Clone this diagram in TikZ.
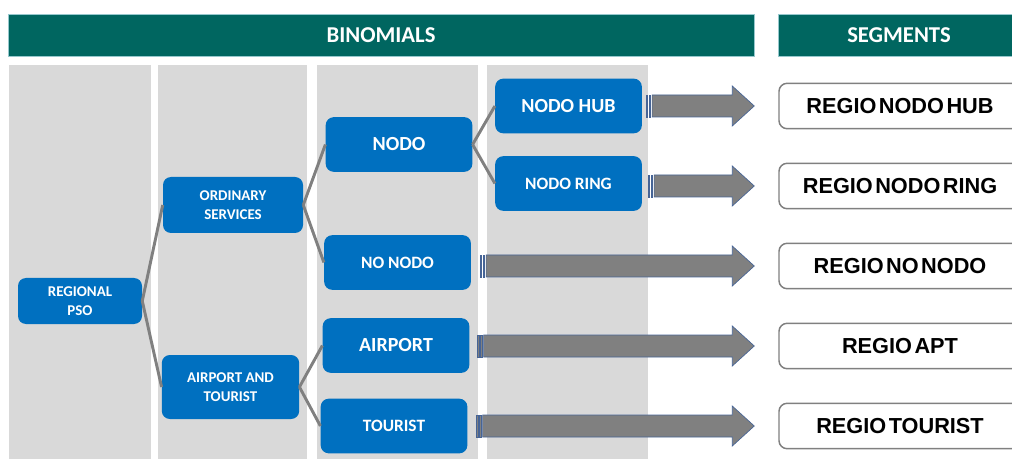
\documentclass[tikz,border=0pt]{standalone}
\usepackage{fontspec}
\setmainfont{Carlito}
\newfontfamily\segfont{Liberation Sans}[WordSpace=0.4]
\usepackage{tikz}
\usetikzlibrary{calc}
\definecolor{headteal}{RGB}{0,102,96}
\definecolor{headedge}{RGB}{150,200,205}
\definecolor{boxblue}{RGB}{0,112,192}
\definecolor{colgray}{RGB}{217,217,217}
\definecolor{linegray}{RGB}{128,128,128}
\definecolor{arrowedge}{RGB}{70,100,150}
\tikzstyle{header}=[rectangle,fill=headteal,draw=headedge,line width=0.4pt,text=white,inner sep=0pt,minimum height=31.5pt,font=\fontsize{17}{20}\selectfont\bfseries]
\tikzstyle{column}=[fill=colgray]
\tikzstyle{bluebox}=[rectangle,rounded corners=6pt,fill=boxblue,text=white,align=center,inner sep=0pt,minimum width=110pt,minimum height=41pt]
\tikzstyle{bigtxt}=[font=\fontsize{15}{18}\selectfont\bfseries]
\tikzstyle{midtxt}=[font=\fontsize{13}{16}\selectfont\bfseries]
\tikzstyle{smalltxt}=[font=\fontsize{11.2}{13.8}\selectfont\bfseries]
\tikzstyle{segment}=[rectangle,rounded corners=6pt,draw=linegray,line width=1.1pt,fill=white,minimum width=181.5pt,minimum height=34pt,inner sep=0pt,font=\segfont\fontsize{16.3}{19}\selectfont\bfseries]
\tikzstyle{branch}=[draw,linegray,line width=2.2pt]
\tikzstyle{bigarrow}=[fill=linegray,draw=arrowedge,line width=0.5pt]

\begin{document}
\begin{tikzpicture}[x=0.75pt,y=-0.75pt]
    \useasboundingbox (0,0) rectangle (1012,459);

    % Headers
    \node[header,minimum width=559.5pt] (binom) at (381,35) {BINOMIALS};
    \node[header,minimum width=181.5pt] (segm) at (899,35) {SEGMENTS};

    % Gray columns
    \foreach \xa/\xb in {9/151, 158/307, 317/478, 487/648}
        \fill[column] (\xa,65) rectangle (\xb,459);

    % First we draw the blue boxes
    \node[bluebox,smalltxt,minimum width=93pt,minimum height=34.5pt] (pso) at (80,301) {REGIONAL\\PSO};
    \node[bluebox,smalltxt,minimum width=105pt,minimum height=42pt] (ord) at (233,205) {ORDINARY\\SERVICES};
    \node[bluebox,smalltxt,minimum width=103pt,minimum height=48pt] (apt) at (230.5,387) {AIRPORT AND\\TOURIST};

    \foreach \pos/\name/\txt in {{(399,144.5)/nodo/NODO}, {(396,345.5)/airport/AIRPORT}, {(568.5,106)/hub/NODO HUB}}
        \node[bluebox,bigtxt] (\name) at \pos {\txt};

    \foreach \pos/\name/\txt in {{(397.5,262.5)/nonodo/NO NODO}, {(394,426)/tourist/TOURIST}, {(568.5,183.5)/ring/NODO RING}}
        \node[bluebox,midtxt] (\name) at \pos {\txt};

    % Connect boxes with branches
    \foreach \source/\dest in {pso/ord, pso/apt, ord/nodo, ord/nonodo, nodo/hub, nodo/ring, apt/airport, apt/tourist}
        \path[branch] (\source.east) -- (\dest.west);

    % Segments
    \foreach \y/\name/\txt in {106/seghub/REGIO NODO HUB, 186/segring/REGIO NODO RING, 266/segnonodo/REGIO NO NODO, 346/segapt/REGIO APT, 426/segtourist/REGIO TOURIST}
        \node[segment] (\name) at (900,\y) {\txt};

    % Block arrows from boxes to segments
    \foreach \source/\dest/\gap in {hub/seghub/4, ring/segring/6, nonodo/segnonodo/9, airport/segapt/8, tourist/segtourist/9} {
        \coordinate (tip) at ($(\dest.west)+(-24,0)$);
        \coordinate (tail) at ($(\source.east)+(\gap,0)$);
        \coordinate (start) at (tail |- tip);
        \filldraw[bigarrow] ($(start)+(0,-11)$) rectangle ($(start)+(1.5,11)$);
        \filldraw[bigarrow] ($(start)+(3,-11)$) rectangle ($(start)+(4.5,11)$);
        \filldraw[bigarrow] ($(start)+(6,-11)$) -- ($(tip)+(-22,-11)$) -- ($(tip)+(-22,-20)$) -- (tip)
            -- ($(tip)+(-22,20)$) -- ($(tip)+(-22,11)$) -- ($(start)+(6,11)$) -- cycle;
    }
\end{tikzpicture}
\end{document}
